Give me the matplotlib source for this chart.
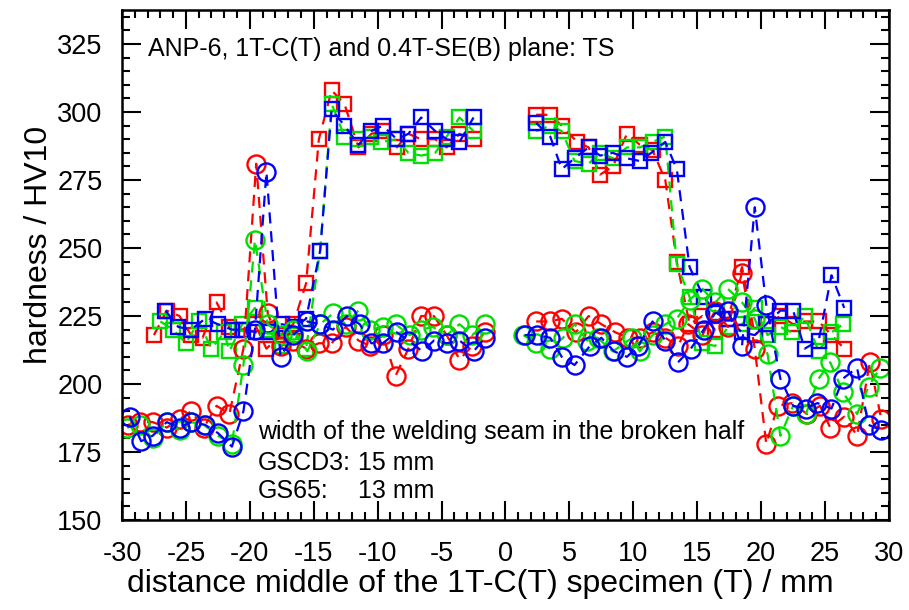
import matplotlib.pyplot as plt
from matplotlib.ticker import MultipleLocator

plt.rcParams['font.family'] = ['Liberation Sans', 'DejaVu Sans']
plt.rcParams['axes.unicode_minus'] = False

RED = '#ff0000'
GREEN = '#00e000'
BLUE = '#0000ff'

# circles (HV10 vs position, mm) - left and right of the specimen middle
rc_x = [-29.5, -28.6, -27.6, -26.5, -25.5, -24.6, -23.6, -22.6, -21.6, -20.5, -19.5, -18.6, -17.6, -16.6,
        -15.6, -14.6, -13.6, -12.5, -11.5, -10.6, -9.6, -8.6, -7.6, -6.6, -5.6, -4.6, -3.6, -2.6, -1.6,
        None,
        2.4, 3.5, 4.4, 5.5, 6.5, 7.5, 8.6, 9.6, 10.5, 11.5, 12.5, 13.5, 14.3, 15.4, 16.4, 17.4, 18.5,
        19.5, 20.4, 21.3, 22.4, 23.6, 24.6, 25.4, 26.5, 27.5, 28.5, 29.4]
rc_y = [185, 186, 186, 184, 187, 190, 184, 192, 189, 213, 281, 226, 214, 216,
        213, 215, 215, 221, 216, 214, 218, 203, 213, 225, 225, 218, 209, 214, 219,
        None,
        223, 223, 224, 219, 225, 222, 219, 217, 217, 219, 217, 214, 222, 218, 227, 221, 241,
        213, 178, 192, 193, 189, 192, 184, 188, 181, 208, 187]

gc_x = [-29.6, -28.6, -27.6, -26.5, -25.5, -24.6, -23.6, -22.5, -21.4, -20.5, -19.6, -18.6, -17.5, -16.6,
        -15.5, -14.5, -13.5, -12.5, -11.5, -10.6, -9.6, -8.6, -7.5, -6.6, -5.7, -4.6, -3.6, -2.6, -1.6,
        None,
        1.4, 2.4, 3.5, 4.5, 5.4, 6.4, 7.2, 8.4, 9.9, 10.5, 11.5, 12.5, 13.4, 14.4, 15.4, 16.4, 17.4,
        18.5, 19.5, 20.5, 21.5, 22.5, 23.5, 24.5, 25.4, 26.4, 27.5, 28.4, 29.3]
gc_y = [184, 185, 180, 186, 183, 186, 185, 181, 178, 207, 253, 222, 218, 220,
        212, 222, 226, 222, 227, 220, 221, 222, 218, 220, 221, 218, 222, 218, 222,
        None,
        218, 215, 213, 217, 222, 216, 217, 212, 217, 212, 218, 222, 224, 231, 235, 230, 235,
        230, 224, 211, 181, 192, 189, 202, 208, 197, 189, 199, 206]

bc_x = [-29.4, -28.5, -27.6, -26.5, -25.5, -24.6, -23.5, -22.5, -21.4, -20.5, -19.6, -18.7, -17.6, -16.6,
        -15.5, -14.5, -13.5, -12.4, -11.4, -10.5, -9.6, -8.5, -7.6, -6.5, -5.6, -4.6, -3.6, -2.5, -1.6,
        None,
        1.5, 2.5, 3.5, 4.4, 5.4, 6.6, 7.5, 8.5, 9.5, 10.4, 11.5, 12.5, 13.5, 14.5, 15.5, 16.4, 17.4,
        18.5, 19.5, 20.4, 21.5, 22.5, 23.5, 24.4, 25.5, 26.4, 27.5, 28.4, 29.4]
bc_y = [188, 179, 181, 186, 184, 186, 185, 182, 177, 190, 220, 278, 210, 218,
        223, 222, 220, 225, 222, 215, 215, 219, 216, 212, 216, 215, 216, 212, 217,
        None,
        218, 218, 217, 210, 207, 214, 217, 212, 210, 214, 223, 216, 208, 213, 220, 226, 227,
        214, 265, 229, 202, 192, 191, 193, 191, 202, 206, 185, 183]

# squares
rs_x = [-27.5, -26.5, -25.5, -24.6, -23.7, -22.6, -21.6, -20.6, -19.6, -18.7, -17.6, -16.6, -15.6,
        -14.6, -13.6, -12.6, -11.5, -10.5, -9.6, -8.5, -7.6, -6.6, -5.5, -4.6, -3.6, -2.5,
        None,
        2.4, 3.5, 4.4, 5.6, 6.5, 7.4, 8.4, 9.5, 10.5, 11.5, 12.5, 13.4, 14.4, 15.4, 16.4, 17.4,
        18.5, 19.5, 20.5, 21.5, 22.5, 23.4, 24.5, 25.5, 26.5]
rs_y = [218, 227, 225, 218, 217, 230, 221, 220, 222, 213, 218, 222, 237,
        290, 308, 303, 287, 292, 293, 287, 292, 290, 290, 287, 292, 290,
        None,
        299, 299, 295, 289, 287, 277, 280, 292, 288, 286, 275, 245, 222, 225, 220, 224,
        243, 218, 222, 225, 222, 223, 223, 218, 213]

gs_x = [-27.0, -26.0, -25.0, -24.0, -23.0, -22.0, -21.6, -20.6, -19.6, -18.6, -17.5, -16.5, -15.6,
        -14.5, -13.6, -12.6, -11.5, -10.5, -9.7, -8.5, -7.6, -6.6, -5.5, -4.6, -3.6, -2.5,
        None,
        2.4, 3.5, 4.4, 5.4, 6.5, 7.4, 8.4, 9.5, 10.5, 11.5, 12.5, 13.4, 14.4, 15.4, 16.4, 17.4,
        18.5, 19.5, 20.5, 21.5, 22.4, 23.4, 24.5, 25.5, 26.4]
gs_y = [223, 220, 215, 223, 213, 219, 212, 222, 228, 220, 214, 218, 213,
        249, 303, 291, 290, 291, 289, 290, 285, 284, 285, 291, 298, 293,
        None,
        293, 295, 293, 282, 281, 285, 283, 287, 287, 289, 291, 244, 232, 215, 214, 221,
        222, 228, 218, 221, 219, 225, 212, 219, 222]

bs_x = [-26.6, -25.6, -24.6, -23.5, -22.5, -21.4, -20.5, -19.5, -18.4, -17.5, -16.5, -15.6,
        -14.5, -13.6, -12.6, -11.5, -10.5, -9.6, -8.5, -7.6, -6.6, -5.5, -4.6, -3.6, -2.5,
        None,
        2.4, 3.5, 4.4, 5.4, 6.5, 7.4, 8.4, 9.5, 10.5, 11.4, 12.5, 13.4, 14.4, 15.5, 16.5, 17.4,
        18.5, 19.5, 20.4, 21.5, 22.5, 23.4, 24.5, 25.5, 26.5]
bs_y = [227, 221, 220, 224, 222, 220, 220, 219, 219, 222, 221, 224,
        249, 301, 295, 288, 293, 295, 290, 292, 298, 293, 290, 289, 298,
        None,
        296, 291, 279, 283, 287, 284, 285, 283, 282, 285, 289, 279, 243, 232, 226, 224,
        219, 218, 222, 227, 227, 213, 216, 240, 228]

x_ticks = [-30, -25, -20, -15, -10, -5, 0, 5, 10, 15, 20, 25, 30]
y_ticks = [150, 175, 200, 225, 250, 275, 300, 325]

fig = plt.figure(figsize=(9.09, 6.10), dpi=100)
ax = fig.add_axes([0.1342, 0.1475, 0.8438, 0.836])


def clean(xs, ys):
    # None splits left and right halves of the specimen
    return ([float('nan') if v is None else v for v in xs],
            [float('nan') if v is None else v for v in ys])


dash = (0, (5, 3.5))
for xs, ys, c in [(rs_x, rs_y, RED), (gs_x, gs_y, GREEN), (bs_x, bs_y, BLUE)]:
    px, py = clean(xs, ys)
    ax.plot(px, py, color=c, linestyle=dash, linewidth=1.6, marker='s', markersize=10.5,
            markerfacecolor='none', markeredgecolor=c, markeredgewidth=1.7)
for xs, ys, c in [(rc_x, rc_y, RED), (gc_x, gc_y, GREEN), (bc_x, bc_y, BLUE)]:
    px, py = clean(xs, ys)
    ax.plot(px, py, color=c, linestyle=dash, linewidth=1.6, marker='o', markersize=13,
            markerfacecolor='none', markeredgecolor=c, markeredgewidth=1.7)

ax.set_xlim(-30, 30)
ax.set_ylim(150, 337.5)
ax.set_xticks(x_ticks)
ax.set_yticks(y_ticks)
ax.xaxis.set_minor_locator(MultipleLocator(1))
ax.yaxis.set_minor_locator(MultipleLocator(5))
ax.tick_params(which='both', direction='in', top=True, right=True, width=1.5, labelsize=19.5)
ax.tick_params(which='major', length=14)
ax.tick_params(which='minor', length=6)
ax.tick_params(axis='x', which='major', pad=15)
ax.tick_params(axis='y', which='major', pad=14)
for s in ax.spines.values():
    s.set_linewidth(1.8)

ax.set_xlabel('distance middle of the 1T-C(T) specimen (T) / mm', fontsize=23)
ax.xaxis.set_label_coords(0.467, -0.096)
ax.set_ylabel('hardness / HV10', fontsize=23)
ax.yaxis.set_label_coords(-0.088, 0.54)

fs = 18
ax.text(0.034, 0.924, 'ANP-6, 1T-C(T) and 0.4T-SE(B) plane: TS', transform=ax.transAxes,
        fontsize=fs, va='center', ha='left')
ax.text(0.177, 0.173, 'width of the welding seam in the broken half', transform=ax.transAxes,
        fontsize=fs, va='center', ha='left')
ax.text(0.177, 0.112, 'GSCD3:', transform=ax.transAxes, fontsize=fs, va='center', ha='left')
ax.text(0.308, 0.112, '15 mm', transform=ax.transAxes, fontsize=fs, va='center', ha='left')
ax.text(0.177, 0.057, 'GS65:', transform=ax.transAxes, fontsize=fs, va='center', ha='left')
ax.text(0.308, 0.057, '13 mm', transform=ax.transAxes, fontsize=fs, va='center', ha='left')

fig.savefig('out.png', dpi=100)
